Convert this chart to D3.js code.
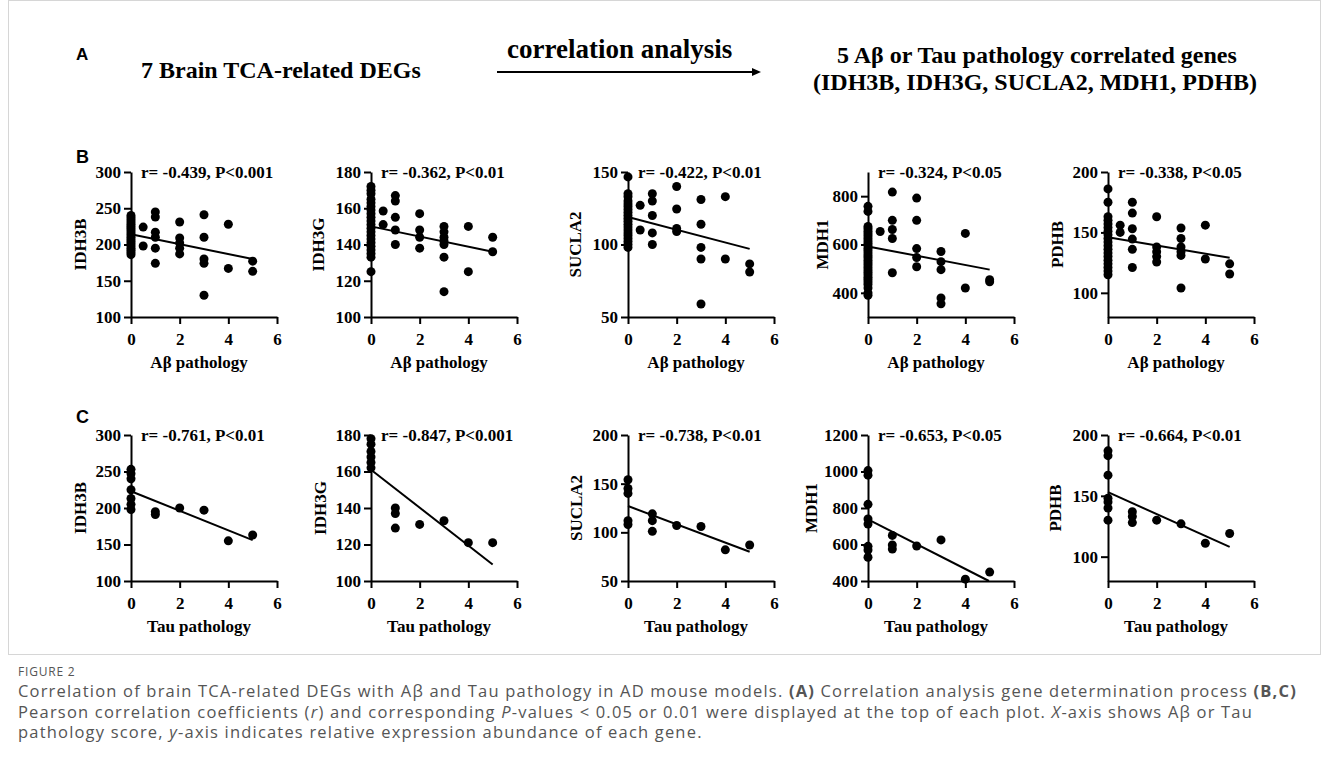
<!DOCTYPE html>
<html>
<head>
<meta charset="utf-8">
<script src="https://cdn.jsdelivr.net/npm/d3@7"></script>
<style>
  body { margin: 0; background: #fff; }
</style>
</head>
<body>
<div id="chart"></div>
<script>
const genes = ['IDH3B', 'IDH3G', 'SUCLA2', 'MDH1', 'PDHB'];
const xTicks = [0, 2, 4, 6];

const abStats = ['r= -0.439, P<0.001', 'r= -0.362, P<0.01', 'r= -0.422, P<0.01', 'r= -0.324, P<0.05', 'r= -0.338, P<0.05'];
const tauStats = ['r= -0.761, P<0.01', 'r= -0.847, P<0.001', 'r= -0.738, P<0.01', 'r= -0.653, P<0.05', 'r= -0.664, P<0.01'];

const abDomains = [[100, 300], [100, 180], [50, 150], [300, 900], [80, 200]];
const abTicks = [[100, 150, 200, 250, 300], [100, 120, 140, 160, 180], [50, 100, 150], [400, 600, 800], [100, 150, 200]];
const tauDomains = [[100, 300], [100, 180], [50, 200], [400, 1200], [80, 200]];
const tauTicks = [[100, 150, 200, 250, 300], [100, 120, 140, 160, 180], [50, 100, 150, 200], [400, 600, 800, 1000, 1200], [100, 150, 200]];

// [pathology score, relative expression]
const abIDH3B = [
  [0, 240], [0, 237], [0, 234], [0, 231], [0, 228], [0, 225], [0, 222], [0, 219], [0, 216], [0, 213],
  [0, 210], [0, 207], [0, 204], [0, 201], [0, 198], [0, 195], [0, 192], [0, 189], [0, 186],
  [0.5, 224], [0.5, 198],
  [1, 245], [1, 238], [1, 217], [1, 210], [1, 195], [1, 174],
  [2, 231], [2, 209], [2, 202], [2, 195], [2, 187],
  [3, 241], [3, 210], [3, 180], [3, 174], [3, 130],
  [4, 228], [4, 167],
  [5, 177], [5, 163]
];
const abIDH3G = [
  [0, 172], [0, 170], [0, 168], [0, 165], [0, 163], [0, 161], [0, 159], [0, 157], [0, 155], [0, 153],
  [0, 151], [0, 149], [0, 147], [0, 145], [0, 143], [0, 141], [0, 139], [0, 137], [0, 135], [0, 133], [0, 125],
  [0.5, 158.5], [0.5, 151],
  [1, 167], [1, 164], [1, 155], [1, 148], [1, 140],
  [2, 157], [2, 148], [2, 144], [2, 138],
  [3, 150], [3, 147], [3, 144], [3, 142], [3, 140], [3, 133], [3, 114],
  [4, 150], [4, 125],
  [5, 144], [5, 136]
];
const abSUCLA2 = [
  [0, 146.6], [0, 135], [0, 133], [0, 130], [0, 128], [0, 126], [0, 124], [0, 122], [0, 120], [0, 118],
  [0, 116], [0, 114], [0, 112], [0, 110], [0, 108], [0, 106], [0, 104], [0, 102], [0, 100], [0, 98],
  [0.5, 127], [0.5, 110],
  [1, 135], [1, 130], [1, 120], [1, 108], [1, 100],
  [2, 140], [2, 124.5], [2, 111], [2, 109],
  [3, 131], [3, 114], [3, 98], [3, 90], [3, 59],
  [4, 133], [4, 90],
  [5, 86.6], [5, 81]
];
const abMDH1 = [
  [0, 758], [0, 737], [0, 675], [0, 665], [0, 655], [0, 645], [0, 635], [0, 625], [0, 615], [0, 605],
  [0, 595], [0, 585], [0, 575], [0, 565], [0, 555], [0, 545], [0, 535], [0, 525], [0, 515], [0, 505],
  [0, 495], [0, 485], [0, 475], [0, 465], [0, 455], [0, 445], [0, 435], [0, 420], [0, 400], [0, 390],
  [0.5, 654],
  [1, 817], [1, 700], [1, 662], [1, 625], [1, 483],
  [2, 792], [2, 700], [2, 583], [2, 546], [2, 508],
  [3, 571], [3, 529], [3, 496], [3, 379], [3, 355],
  [4, 646], [4, 420],
  [5, 454], [5, 446]
];
const abPDHB = [
  [0, 186], [0, 175], [0, 163], [0, 160], [0, 157], [0, 154], [0, 151], [0, 148], [0, 145], [0, 142],
  [0, 139], [0, 136], [0, 133], [0, 130], [0, 127], [0, 124], [0, 121], [0, 118], [0, 115],
  [0.5, 156], [0.5, 150],
  [1, 175], [1, 166], [1, 153], [1, 144.5], [1, 136], [1, 121],
  [2, 163], [2, 138], [2, 134], [2, 130], [2, 125.5],
  [3, 153.7], [3, 145], [3, 138], [3, 134], [3, 131], [3, 104],
  [4, 156], [4, 128],
  [5, 124], [5, 115.6]
];

const tauIDH3B = [[0, 253], [0, 247], [0, 240], [0, 225], [0, 213], [0, 205], [0, 198], [1, 195], [1, 191], [2, 200], [3, 197], [4, 155], [5, 163]];
const tauIDH3G = [[0, 178], [0, 175], [0, 171], [0, 168], [0, 165], [0, 162], [1, 140], [1, 137], [1, 129], [2, 131], [3, 133], [4, 121], [5, 121]];
const tauSUCLA2 = [[0, 154], [0, 145], [0, 140], [0, 112], [0, 108], [1, 119], [1, 112], [1, 101], [2, 107], [3, 106], [4, 82], [5, 87]];
const tauMDH1 = [[0, 1005], [0, 980], [0, 820], [0, 740], [0, 712], [0, 590], [0, 570], [0, 530], [1, 650], [1, 597], [1, 575], [2, 592], [3, 625], [4, 410], [5, 449]];
const tauPDHB = [[0, 187], [0, 183], [0, 167], [0, 148], [0, 145], [0, 140], [0, 130], [1, 137], [1, 133], [1, 128], [2, 130], [3, 127], [4, 111], [5, 119]];

// fitted line value at pathology 0 and at pathology 5
const abFits = [[214, 180], [150, 136], [119, 97], [592, 496], [146, 129]];
const tauFits = [[223, 156], [161, 109], [127, 80], [738, 398], [153, 108]];

const draw = () => {
  const dimensions = { width: 1329, height: 773 };
  const panelLefts = [131, 371, 628, 868, 1108];
  const panelWidth = 146;
  const serif = '"Liberation Serif", "Times New Roman", serif';
  const sans = '"Liberation Sans", Arial, sans-serif';
  const captionFont = '"Open Sans", "Noto Sans", sans-serif';

  const svg = d3.select('#chart')
    .append('svg')
    .attr('width', dimensions.width)
    .attr('height', dimensions.height);

  // figure frame
  svg.append('rect')
    .attr('x', 8.5).attr('y', 0.5)
    .attr('width', 1312).attr('height', 654)
    .attr('fill', 'none')
    .attr('stroke', '#d6d6d6');

  // panel A header
  svg.append('text').attr('x', 76).attr('y', 60)
    .attr('font-family', sans).attr('font-weight', 'bold').attr('font-size', 17)
    .text('A');

  const header = svg.append('g')
    .attr('font-family', serif).attr('font-weight', 'bold').attr('font-size', 24);
  header.append('text').attr('x', 141).attr('y', 78).text('7 Brain TCA-related DEGs');
  header.append('text').attr('x', 507).attr('y', 58).attr('font-size', 27).text('correlation analysis');
  header.append('text').attr('x', 837).attr('y', 63).text('5 Aβ or Tau pathology correlated genes');
  header.append('text').attr('x', 813).attr('y', 90).text('(IDH3B, IDH3G, SUCLA2, MDH1, PDHB)');

  svg.append('line')
    .attr('x1', 497).attr('x2', 754)
    .attr('y1', 72).attr('y2', 72)
    .attr('stroke', 'black').attr('stroke-width', 2);
  svg.append('path')
    .attr('d', 'M752,68 L761,72 L752,76 Z')
    .attr('fill', 'black');

  const rows = [
    {
      letter: 'B', letterY: 163, top: 172, bottom: 317,
      stats: abStats, domains: abDomains, ticks: abTicks, fits: abFits,
      points: [abIDH3B, abIDH3G, abSUCLA2, abMDH1, abPDHB],
      xTitle: 'Aβ pathology', labelOffsets: [51, 53, 53, 46, 51]
    },
    {
      letter: 'C', letterY: 423, top: 435, bottom: 581,
      stats: tauStats, domains: tauDomains, ticks: tauTicks, fits: tauFits,
      points: [tauIDH3B, tauIDH3G, tauSUCLA2, tauMDH1, tauPDHB],
      xTitle: 'Tau pathology', labelOffsets: [51, 51, 52, 57, 53]
    }
  ];

  rows.forEach((row) => {
    svg.append('text').attr('x', 76).attr('y', row.letterY)
      .attr('font-family', sans).attr('font-weight', 'bold').attr('font-size', 18)
      .text(row.letter);

    const height = row.bottom - row.top;

    genes.forEach((gene, i) => {
      const container = svg.append('g')
        .attr('transform', `translate(${panelLefts[i]}, ${row.top})`);

      const xScale = d3.scaleLinear().domain([0, 6]).range([0, panelWidth]);
      const yScale = d3.scaleLinear().domain(row.domains[i]).range([height, 0]);

      const xAxis = d3.axisBottom(xScale)
        .tickValues(xTicks)
        .tickFormat(d3.format('d'))
        .tickSize(7)
        .tickSizeOuter(0)
        .tickPadding(9);
      const yAxis = d3.axisLeft(yScale)
        .tickValues(row.ticks[i])
        .tickFormat(d3.format('d'))
        .tickSize(7)
        .tickSizeOuter(0)
        .tickPadding(3);

      const xAxisGroup = container.append('g')
        .attr('transform', `translate(0, ${height})`)
        .call(xAxis);
      const yAxisGroup = container.append('g').call(yAxis);

      [xAxisGroup, yAxisGroup].forEach((axisGroup) => {
        axisGroup.attr('font-family', serif)
          .attr('font-size', 17)
          .attr('font-weight', 'bold');
        axisGroup.select('.domain').attr('stroke-width', 2);
        axisGroup.selectAll('.tick line').attr('stroke-width', 2);
        axisGroup.selectAll('.tick text').attr('fill', 'black');
      });

      xAxisGroup.append('text')
        .attr('x', panelWidth / 2 - 5)
        .attr('y', 51)
        .attr('fill', 'black')
        .attr('text-anchor', 'middle')
        .text(row.xTitle);

      yAxisGroup.append('text')
        .attr('transform', `translate(${-row.labelOffsets[i]}, ${height / 2}) rotate(-90)`)
        .attr('fill', 'black')
        .attr('text-anchor', 'middle')
        .attr('dy', '0.35em')
        .text(gene);

      container.append('text')
        .attr('x', 10)
        .attr('y', 6)
        .attr('font-family', serif)
        .attr('font-size', 17)
        .attr('font-weight', 'bold')
        .text(row.stats[i]);

      container.append('g')
        .selectAll('circle')
        .data(row.points[i])
        .join('circle')
        .attr('cx', (d) => xScale(d[0]))
        .attr('cy', (d) => yScale(d[1]))
        .attr('r', 4.5)
        .attr('fill', 'black');

      // fitted line, cut where it leaves the y range
      const [y0, y5] = row.fits[i];
      const yMin = row.domains[i][0];
      let xEnd = 5;
      let yEnd = y5;
      if (y5 < yMin) {
        xEnd = 5 * (y0 - yMin) / (y0 - y5);
        yEnd = yMin;
      }
      container.append('line')
        .attr('x1', xScale(0)).attr('y1', yScale(y0))
        .attr('x2', xScale(xEnd)).attr('y2', yScale(yEnd))
        .attr('stroke', 'black')
        .attr('stroke-width', 2);
    });
  });

  // caption
  svg.append('text')
    .attr('x', 18).attr('y', 676)
    .attr('font-family', captionFont)
    .attr('font-size', 12)
    .attr('letter-spacing', 0.8)
    .attr('fill', '#555')
    .text('FIGURE 2');

  const captionLines = [
    [['Correlation of brain TCA-related DEGs with Aβ and Tau pathology in AD mouse models. ', ''], ['(A)', 'b'], [' Correlation analysis gene determination process ', ''], ['(B,C)', 'b']],
    [['Pearson correlation coefficients (', ''], ['r', 'i'], [') and corresponding ', ''], ['P', 'i'], ['-values < 0.05 or 0.01 were displayed at the top of each plot. ', ''], ['X', 'i'], ['-axis shows Aβ or Tau', '']],
    [['pathology score, ', ''], ['y', 'i'], ['-axis indicates relative expression abundance of each gene.', '']]
  ];

  const caption = svg.append('g')
    .attr('font-family', captionFont)
    .attr('font-size', 16.5)
    .attr('fill', '#555');

  const lineNodes = captionLines.map((parts, i) => {
    const line = caption.append('text')
      .attr('x', 18)
      .attr('y', 697 + i * 20.5)
      .attr('xml:space', 'preserve');
    parts.forEach(([txt, style]) => {
      line.append('tspan')
        .attr('font-weight', style === 'b' ? 'bold' : null)
        .attr('font-style', style === 'i' ? 'italic' : null)
        .text(txt);
    });
    return line;
  });

  // spread the letters so the first line fills the frame width
  const firstWidth = lineNodes[0].node().getComputedTextLength();
  const firstChars = captionLines[0].map((p) => p[0]).join('').length;
  caption.attr('letter-spacing', Math.max(0, (1279 - firstWidth) / firstChars));
};

draw();
</script>
</body>
</html>
